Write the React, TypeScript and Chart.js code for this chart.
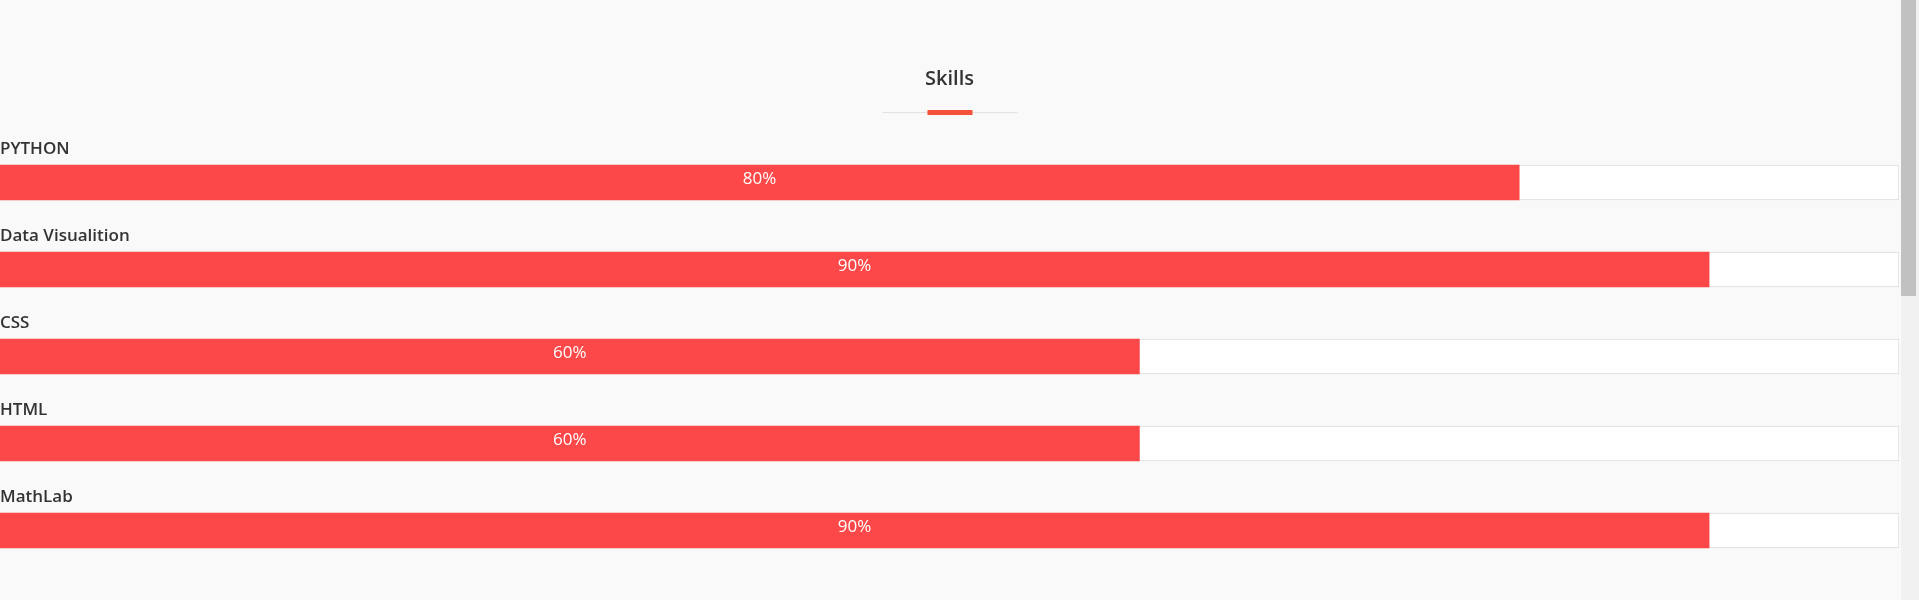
import React, { useEffect, useRef } from "react";
import { Chart, registerables } from "chart.js";

Chart.register(...registerables);

const skills = ["PYTHON", "Data Visualition", "CSS", "HTML", "MathLab"];
const levels = [80, 90, 60, 60, 90];
const fullScale = [100, 100, 100, 100, 100];
const titleText = "Skills";

const FONT = "'Open Sans', 'Noto Sans', sans-serif";

export default function App() {
  const ref = useRef<HTMLCanvasElement>(null);

  useEffect(() => {
    document.body.style.margin = "0";
    document.body.style.background = "#f9f9f9";
    document.body.style.overflow = "hidden";
    if (!ref.current) return;

    const labelPlugin = {
      id: "skillLabels",
      afterDatasetsDraw(chart: any) {
        const { ctx, chartArea, scales } = chart;
        const xs = scales.x;
        const ys = scales.y;
        ctx.save();
        const cx = (chartArea.left + chartArea.right) / 2;
        ctx.fillStyle = "#333333";
        ctx.font = `600 20px ${FONT}`;
        ctx.textAlign = "center";
        ctx.textBaseline = "middle";
        ctx.fillText(titleText, cx, 79);
        ctx.fillStyle = "#e2e2e2";
        ctx.fillRect(cx - 67, 112, 135, 1);
        ctx.fillStyle = "#f4523a";
        ctx.fillRect(cx - 22, 110, 45, 5);

        skills.forEach((name, i) => {
          const y = ys.getPixelForValue(i);
          ctx.fillStyle = "#333333";
          ctx.font = `600 17px ${FONT}`;
          ctx.textAlign = "left";
          ctx.textBaseline = "middle";
          ctx.fillText(name, 0, y - 33);
          const x0 = xs.getPixelForValue(0);
          const x1 = xs.getPixelForValue(levels[i]);
          ctx.fillStyle = "#ffffff";
          ctx.font = `17px ${FONT}`;
          ctx.textAlign = "center";
          ctx.fillText(levels[i] + "%", (x0 + x1) / 2, y - 3);
        });
        ctx.restore();
      },
    };

    const chart = new Chart(ref.current, {
      type: "bar",
      data: {
        labels: skills,
        datasets: [
          {
            label: "level",
            data: levels,
            backgroundColor: "#fc4848",
            borderWidth: 0,
            barThickness: 35,
            grouped: false,
            order: 0,
          },
          {
            label: "track",
            data: fullScale,
            backgroundColor: "#ffffff",
            borderColor: "#dcdcdc",
            borderWidth: 1,
            borderSkipped: false,
            barThickness: 35,
            grouped: false,
            order: 1,
          },
        ],
      },
      options: {
        indexAxis: "y",
        animation: false,
        responsive: true,
        maintainAspectRatio: false,
        layout: { padding: { top: 139, bottom: 26, left: 0, right: 1 } },
        scales: {
          x: { display: false, min: 0, max: 100 },
          y: { display: false },
        },
        plugins: {
          legend: { display: false },
          tooltip: { enabled: false },
          title: { display: false },
        },
      },
      plugins: [labelPlugin],
    });
    return () => chart.destroy();
  }, []);

  return (
    <div>
      <div style={{ width: 1900, height: 600, position: "relative" }}>
        <canvas ref={ref} />
      </div>
      <div
        style={{
          position: "fixed",
          top: 0,
          right: 0,
          width: 18,
          height: 600,
          background: "#f1f1f1",
        }}
      >
        <div style={{ width: 15, height: 296, background: "#c1c1c1" }} />
      </div>
    </div>
  );
}
